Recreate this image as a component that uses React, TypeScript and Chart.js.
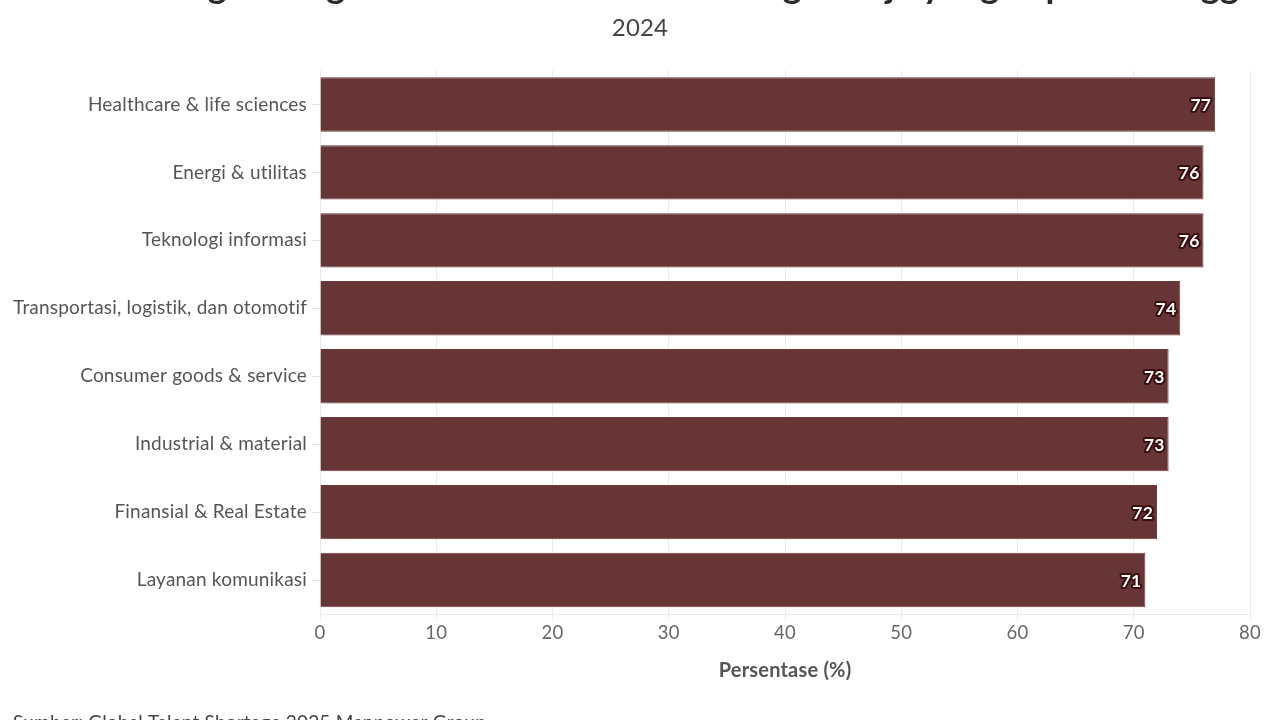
import React, { useEffect, useRef } from "react";
import { Chart, registerables } from "chart.js";

Chart.register(...registerables);

const titleText = "Sektor dengan Tingkat Kesulitan Mencari Tenaga Kerja yang Tepat Tertinggi";
const subtitleText = "2024";
const sourceText = "Sumber: Global Talent Shortage 2025 Manpower Group";
const axisTitle = "Persentase (%)";

const categories = [
  "Healthcare & life sciences",
  "Energi & utilitas",
  "Teknologi informasi",
  "Transportasi, logistik, dan otomotif",
  "Consumer goods & service",
  "Industrial & material",
  "Finansial & Real Estate",
  "Layanan komunikasi",
];
const values = [77, 76, 76, 74, 73, 73, 72, 71];
const xTicks = [0, 10, 20, 30, 40, 50, 60, 70, 80];

const FONT = "Lato, 'Open Sans', sans-serif";

const spacingPlugin = {
  id: "noLig",
  beforeDraw(chart: any) {
    try {
      (chart.ctx as any).letterSpacing = "0.2px";
    } catch (e) {}
  },
};

const textPlugin = {
  id: "texts",
  afterDraw(chart: any) {
    const ctx = chart.ctx;
    ctx.save();
    ctx.textAlign = "center";
    ctx.textBaseline = "alphabetic";
    ctx.fillStyle = "#2b2b2b";
    ctx.font = `bold 36px ${FONT}`;
    ctx.fillText(titleText, 640, -2.5);
    ctx.fillStyle = "#444";
    ctx.font = `24px ${FONT}`;
    ctx.fillText(subtitleText, 640, 36);
    ctx.textAlign = "left";
    ctx.fillStyle = "#444";
    ctx.font = `19px ${FONT}`;
    ctx.fillText(sourceText, 13, 728.5);
    ctx.restore();
  },
};

const labelPlugin = {
  id: "barLabels",
  afterDatasetsDraw(chart: any) {
    const ctx = chart.ctx;
    const meta = chart.getDatasetMeta(0);
    ctx.save();
    ctx.font = `bold 17.5px ${FONT}`;
    ctx.textAlign = "right";
    ctx.textBaseline = "middle";
    ctx.lineJoin = "round";
    meta.data.forEach((bar: any, i: number) => {
      const t = String(values[i]);
      const x = bar.x - 4;
      const y = bar.y + 1;
      ctx.strokeStyle = "#3a0e0e";
      ctx.lineWidth = 4;
      ctx.strokeText(t, x, y);
      ctx.fillStyle = "#ffffff";
      ctx.fillText(t, x, y);
    });
    ctx.restore();
  },
};

export default function App() {
  const ref = useRef<HTMLCanvasElement | null>(null);
  useEffect(() => {
    document.body.style.margin = "0";
    if (!ref.current) return;
    const chart = new Chart(ref.current, {
      type: "bar",
      data: {
        labels: categories,
        datasets: [
          {
            data: values,
            backgroundColor: "#673535",
            borderColor: "#6e3d3d",
            borderWidth: 1,
            categoryPercentage: 1,
            barPercentage: 0.8,
          },
        ],
      },
      options: {
        indexAxis: "y",
        responsive: false,
        animation: false,
        layout: { padding: { top: 70.5, right: 30, bottom: 40, left: 0 } },
        plugins: {
          legend: { display: false },
          title: { display: false },
          tooltip: { enabled: false },
        },
        scales: {
          x: {
            min: 0,
            max: 80,
            afterBuildTicks: (s: any) => {
              s.ticks = xTicks.map((v) => ({ value: v }));
            },
            afterFit: (s: any) => {
              s.height = 66;
            },
            grid: { color: "#ebebeb", lineWidth: 1, tickLength: 6, drawTicks: true },
            border: { display: true, color: "#ebebeb" },
            ticks: {
              color: "#666",
              font: { family: FONT, size: 18.5 },
              padding: 2,
            },
            title: {
              display: true,
              text: axisTitle,
              color: "#555",
              font: { family: FONT, size: 20, weight: "bold" },
              padding: { top: 0, bottom: -3 },
            },
          },
          y: {
            afterFit: (s: any) => {
              s.width = 320;
            },
            grid: { drawOnChartArea: false, color: "#e6e6e6", tickLength: 8, offset: false },
            border: { display: false },
            ticks: {
              color: "#555",
              font: { family: FONT, size: 19 },
              padding: 5,
            },
          },
        },
      },
      plugins: [spacingPlugin, labelPlugin, textPlugin],
    });
    return () => chart.destroy();
  }, []);
  return (
    <div style={{ position: "fixed", left: 0, top: 0, width: 1280, height: 720, background: "#fff" }}>
      <canvas ref={ref} width={1280} height={720} style={{ width: 1280, height: 720 }} />
    </div>
  );
}
